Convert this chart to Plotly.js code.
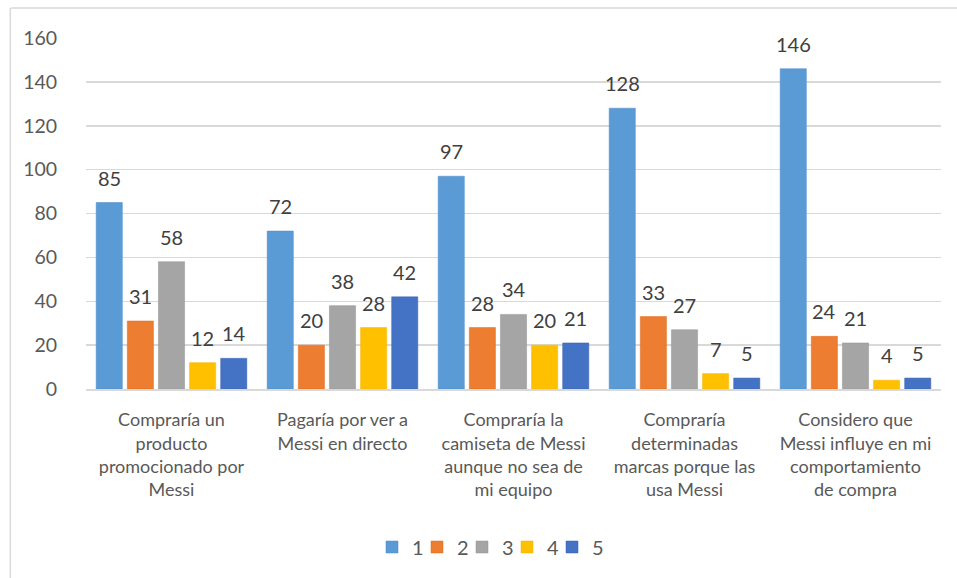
<!DOCTYPE html>
<html>
<head>
<meta charset="utf-8">
<script src="https://cdn.plot.ly/plotly-3.0.1.min.js"></script>
<style>html,body{margin:0;padding:0;background:#fff;}#chart{width:957px;height:578px;}</style>
</head>
<body>
<div id="chart"></div>
<script>
const categories = [
  "Compraría un<br>producto<br>promocionado por<br>Messi",
  "Pagaría por ver a<br>Messi en directo",
  "Compraría la<br>camiseta de Messi<br>aunque no sea de<br>mi equipo",
  "Compraría<br>determinadas<br>marcas porque las<br>usa Messi",
  "Considero que<br>Messi influye en mi<br>comportamiento<br>de compra"
];
const seriesNames = ["1", "2", "3", "4", "5"];
const s1 = [85, 72, 97, 128, 146];
const s2 = [31, 20, 28, 33, 24];
const s3 = [58, 38, 34, 27, 21];
const s4 = [12, 28, 20, 7, 4];
const s5 = [14, 42, 21, 5, 5];
const yTicks = [0, 20, 40, 60, 80, 100, 120, 140, 160];

const seriesValues = [s1, s2, s3, s4, s5];
const colors = ["#5B9BD5", "#ED7D31", "#A5A5A5", "#FFC000", "#4472C4"];
const lineColors = ["#4A8ACB", "#E06A1C", "#939393", "#F2B600", "#3A62B4"];

const FONT = "Lato, 'Open Sans', 'Liberation Sans', sans-serif";

const W = 957, H = 578;
const M = {l: 86, r: 16, t: 38, b: 189};
const BARGAP = 0.09;
const plotW = W - M.l - M.r;
const catW = plotW / categories.length;
const slotW = catW * (1 - BARGAP) / seriesValues.length;

// one small legend per series so the entries can sit as tightly as in the original
const legendIds = seriesNames.map((_, i) => i === 0 ? "legend" : "legend" + (i + 1));
const LEG_X0 = 389, LEG_STEP = 45, LEG_OFF = -17;

const traces = seriesValues.map((vals, i) => ({
  type: "bar",
  name: seriesNames[i],
  x: categories,
  y: vals,
  legend: legendIds[i],
  marker: {color: colors[i], line: {color: lineColors[i], width: 0.5}},
  hoverinfo: "x+y+name"
}));

const annotations = [];
seriesValues.forEach((vals, i) => {
  vals.forEach((v, j) => {
    annotations.push({
      x: categories[j], y: v, xref: "x", yref: "y",
      text: String(v), showarrow: false,
      xanchor: "center", yanchor: "middle",
      xshift: (i - (seriesValues.length - 1) / 2) * slotW,
      yshift: 25,
      font: {family: FONT, size: 20, color: "#404040"}
    });
  });
});

const layout = {
  width: W,
  height: H,
  margin: {l: M.l, r: M.r, t: M.t, b: M.b, autoexpand: false},
  paper_bgcolor: "#ffffff",
  plot_bgcolor: "#ffffff",
  barmode: "group",
  bargap: BARGAP,
  bargroupgap: 0.16,
  font: {family: FONT, color: "#595959"},
  xaxis: {
    automargin: false,
    tickfont: {family: FONT, size: 18, color: "#595959"},
    showline: true,
    linecolor: "#D9D9D9",
    linewidth: 1.5,
    ticks: "",
    ticklabelstandoff: 14,
    showgrid: false
  },
  yaxis: {
    automargin: false,
    range: [0, 160],
    tickvals: yTicks,
    ticktext: yTicks.map(String),
    tickfont: {family: FONT, size: 19.5, color: "#595959"},
    showgrid: true,
    gridcolor: "#D9D9D9",
    gridwidth: 1.5,
    zeroline: false,
    showline: false,
    ticks: "outside",
    ticklen: 24,
    tickcolor: "rgba(0,0,0,0)"
  },
  annotations: annotations,
  shapes: [
    {type: "line", xref: "paper", yref: "paper", x0: -0.088, x1: 1.1, y0: 1.0855, y1: 1.0855,
     line: {color: "#D9D9D9", width: 1.5}},
    {type: "line", xref: "paper", yref: "paper", x0: -0.0885, x1: -0.0885, y0: 1.0855, y1: -1.0,
     line: {color: "#D9D9D9", width: 1.5}}
  ],
  showlegend: true
};

legendIds.forEach((id, i) => {
  layout[id] = {
    orientation: "h",
    xref: "container",
    x: (LEG_X0 + i * LEG_STEP + LEG_OFF) / W,
    xanchor: "left",
    yref: "container",
    y: 1 - 547 / H,
    yanchor: "middle",
    font: {family: FONT, size: 20, color: "#595959"},
    itemwidth: 30,
    bgcolor: "rgba(0,0,0,0)"
  };
});

Plotly.newPlot("chart", traces, layout, {displayModeBar: false, staticPlot: true});
</script>
</body>
</html>
